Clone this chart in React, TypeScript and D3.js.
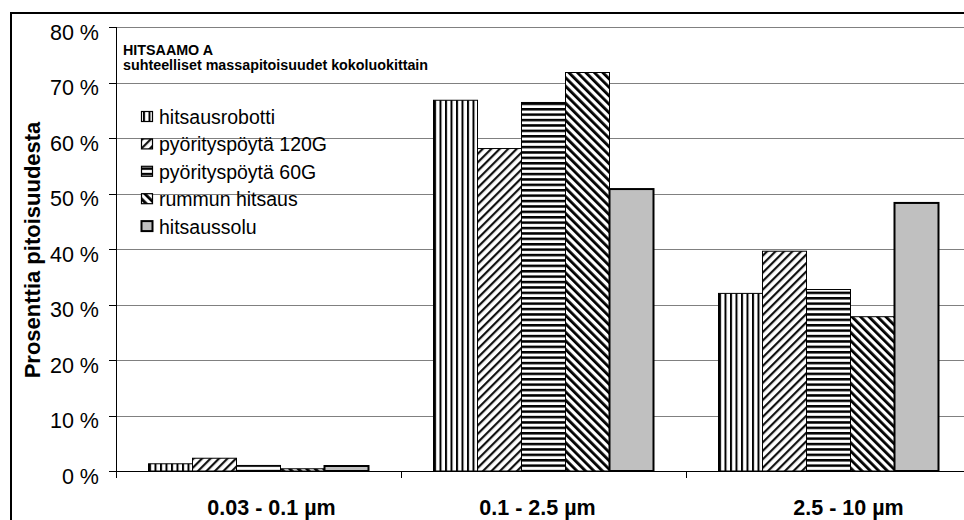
import React from "react";
import * as d3 from "d3";

const categories = ["0.03 - 0.1 \u00b5m", "0.1 - 2.5 \u00b5m", "2.5 - 10 \u00b5m"];
const seriesNames = ["hitsausrobotti", "pyörityspöytä 120G", "pyörityspöytä 60G", "rummun hitsaus", "hitsaussolu"];
const hitsausrobotti = [1.3, 66.8, 32.0];
const pyoritys120G = [2.3, 58.1, 39.6];
const pyoritys60G = [1.0, 66.4, 32.7];
const rummunHitsaus = [0.4, 71.8, 27.8];
const hitsaussolu = [0.9, 50.8, 48.3];
const yTicks = [0, 10, 20, 30, 40, 50, 60, 70, 80];
const titleLines = ["HITSAAMO A", "suhteelliset massapitoisuudet kokoluokittain"];
const yTitle = "Prosenttia pitoisuudesta";

const seriesValues = [hitsausrobotti, pyoritys120G, pyoritys60G, rummunHitsaus, hitsaussolu];

const W = 964;
const H = 520;
const plotLeft = 116;
const bandW = 285;
const plotRight = plotLeft + bandW * categories.length;
const plotTop = 27;
const plotBottom = 471;
const barW = 44;
const labelNudge = [13, -6, 20];
const FONT = "Arial, 'Liberation Sans', Helvetica, sans-serif";

const fills = ["url(#pVert)", "url(#pUp)", "url(#pHoriz)", "url(#pDown)", "#c0c0c0"];

export default function App() {
  const x0 = d3.scaleBand<string>().domain(categories).range([plotLeft, plotRight]).paddingInner(0).paddingOuter(0);
  const outer = (bandW / barW - seriesNames.length) / 2;
  const x1 = d3.scaleBand<string>().domain(seriesNames).range([0, x0.bandwidth()]).paddingInner(0).paddingOuter(outer);
  const y = d3.scaleLinear().domain([0, 80]).range([plotBottom, plotTop]);

  const legendY = (i: number) => 116.5 + i * 27.4;

  return (
    <svg width={W} height={H} style={{ position: "absolute", left: 0, top: 0, background: "#fff" }} fontFamily={FONT}>
      <defs>
        <pattern id="pVert" patternUnits="userSpaceOnUse" width={5.5} height={10}>
          <rect width={5.5} height={10} fill="#fff" />
          <rect x={0} width={2} height={10} fill="#000" />
        </pattern>
        <pattern id="pHoriz" patternUnits="userSpaceOnUse" width={10} height={5.4}>
          <rect width={10} height={5.4} fill="#fff" />
          <rect y={0} width={10} height={2.5} fill="#000" />
        </pattern>
        <pattern id="pUp" patternUnits="userSpaceOnUse" width={6} height={10} patternTransform="rotate(45)">
          <rect width={6} height={10} fill="#fff" />
          <rect x={0} width={2.2} height={10} fill="#111" />
        </pattern>
        <pattern id="pDown" patternUnits="userSpaceOnUse" width={6} height={10} patternTransform="rotate(-45)">
          <rect width={6} height={10} fill="#fff" />
          <rect x={0} width={2.8} height={10} fill="#000" />
        </pattern>
      </defs>

      {/* outer chart border */}
      <line x1={11} y1={13} x2={W} y2={13} stroke="#000" strokeWidth={2} />
      <line x1={11} y1={12} x2={11} y2={H} stroke="#000" strokeWidth={2} />

      {/* gridlines */}
      {yTicks.filter((t) => t > 0).map((t) => (
        <line key={"g" + t} x1={plotLeft} x2={plotRight} y1={Math.round(y(t)) + 0.5} y2={Math.round(y(t)) + 0.5} stroke="#808080" strokeWidth={1} />
      ))}

      {/* bars */}
      {categories.map((c, ci) => (
        <g key={c} transform={`translate(${x0(c)},0)`}>
          {seriesNames.map((s, si) => {
            const v = seriesValues[si][ci];
            const xx = x1(s)!;
            const top = y(v);
            const thick = si === 4;
            return (
              <rect
                key={s}
                x={xx}
                y={top}
                width={x1.bandwidth()}
                height={plotBottom - top}
                fill={fills[si]}
                stroke="#000"
                strokeWidth={thick ? 2 : 1}
              />
            );
          })}
        </g>
      ))}

      {/* axes */}
      <line x1={plotLeft + 0.5} x2={plotLeft + 0.5} y1={plotTop} y2={plotBottom + 7} stroke="#000" strokeWidth={1} />
      <line x1={plotLeft - 7} x2={plotRight} y1={plotBottom + 0.5} y2={plotBottom + 0.5} stroke="#000" strokeWidth={1} />
      {yTicks.map((t) => (
        <g key={"t" + t}>
          <line x1={plotLeft - 7} x2={plotLeft} y1={Math.round(y(t)) + 0.5} y2={Math.round(y(t)) + 0.5} stroke="#000" strokeWidth={1} />
          <text x={99} y={y(t) + 12.5} textAnchor="end" fontSize={21.5} fill="#000">
            {t + " %"}
          </text>
        </g>
      ))}
      {categories.map((c) => (
        <line key={"xt" + c} x1={x0(c)! + bandW + 0.5} x2={x0(c)! + bandW + 0.5} y1={plotBottom} y2={plotBottom + 7} stroke="#000" strokeWidth={1} />
      ))}
      {categories.map((c, ci) => (
        <text key={"xl" + c} x={x0(c)! + bandW / 2 + labelNudge[ci]} y={515} textAnchor="middle" fontSize={21.5} fontWeight="bold" fill="#000">
          {c}
        </text>
      ))}

      {/* y title */}
      <text transform={`translate(40,250) rotate(-90)`} textAnchor="middle" fontSize={22} fontWeight="bold" fill="#000">
        {yTitle}
      </text>

      {/* chart title */}
      {titleLines.map((l, i) => (
        <text key={l} x={123} y={55 + i * 15} fontSize={14.3} fontWeight="bold" fill="#000">
          {l}
        </text>
      ))}

      {/* legend */}
      {seriesNames.map((s, si) => (
        <g key={"lg" + s}>
          <rect
            x={141.5}
            y={legendY(si) - 5}
            width={11}
            height={10}
            fill={fills[si]}
            stroke="#000"
            strokeWidth={si === 4 ? 2 : 1.2}
          />
          <text x={159} y={legendY(si) + 7.5} fontSize={19.5} fill="#000">
            {s}
          </text>
        </g>
      ))}
    </svg>
  );
}
